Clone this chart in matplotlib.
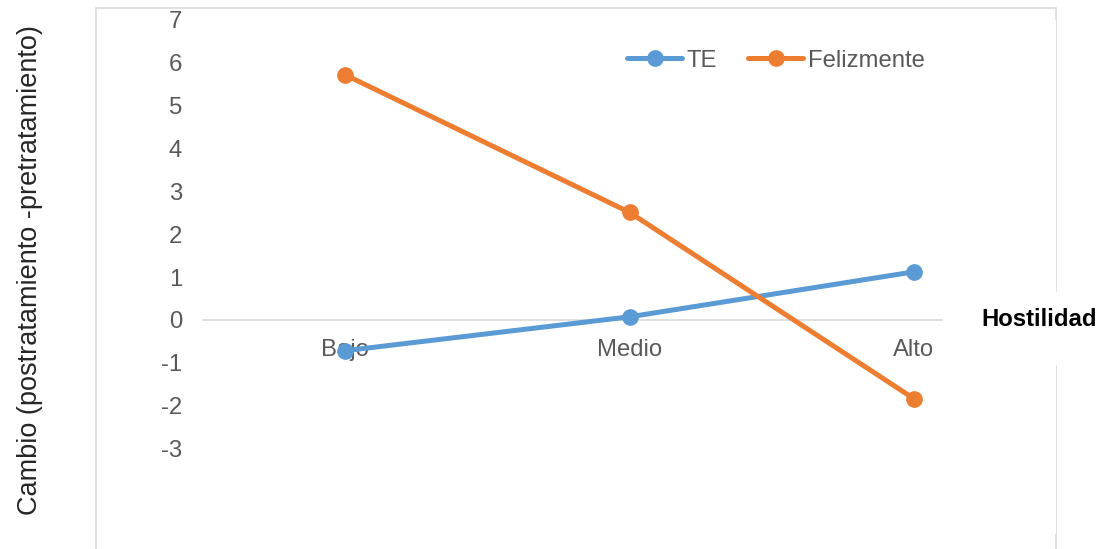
import matplotlib

matplotlib.use("Agg")

import matplotlib.pyplot as plt
from matplotlib.patches import Rectangle

plt.rcParams["font.family"] = ["Liberation Sans", "DejaVu Sans"]

categories = ["Bajo", "Medio", "Alto"]
te_values = [-0.72, 0.07, 1.12]
felizmente_values = [5.72, 2.51, -1.84]
y_ticks = [7, 6, 5, 4, 3, 2, 1, 0, -1, -2, -3]

BLUE = "#5B9BD5"
ORANGE = "#ED7D31"
GREY_TEXT = "#595959"
GRID = "#D9D9D9"
FS = 17.2

W, H = 1104, 549
fig = plt.figure(figsize=(W / 100, H / 100), dpi=100)
ax = fig.add_axes([203 / W, (H - 534) / H, (1056 - 203) / W, (534 - 20) / H])

x = list(range(len(categories)))
ax.plot(x, te_values, color=BLUE, linewidth=3.6, marker="o", markersize=11,
        solid_capstyle="round", label="TE", zorder=3)
ax.plot(x, felizmente_values, color=ORANGE, linewidth=3.6, marker="o", markersize=11,
        solid_capstyle="round", label="Felizmente", zorder=3)

ax.set_xlim(-0.5, len(categories) - 0.5)
ax.set_ylim(-5, 7)
ax.set_yticks(y_ticks)
ax.set_yticklabels([str(v) for v in y_ticks])
ax.set_xticks(x)
ax.set_xticklabels(categories)

for side in ("left", "right", "top"):
    ax.spines[side].set_visible(False)
ax.spines["bottom"].set_position(("data", 0))
ax.spines["bottom"].set_color(GRID)
ax.spines["bottom"].set_linewidth(1.2)
ax.spines["bottom"].set_zorder(1)

ax.tick_params(axis="y", length=0, pad=15, labelsize=FS, labelcolor=GREY_TEXT)
ax.tick_params(axis="x", length=0, pad=14, labelsize=FS, labelcolor=GREY_TEXT)
for lab in ax.get_xticklabels():
    lab.set_zorder(4)

ax.set_ylabel("Cambio (postratamiento -pretratamiento)", fontsize=19.5,
              color="#262626", labelpad=0)
ax.yaxis.set_label_coords(-160 / (1056 - 203), (H - 270 - 15) / (534 - 20))

leg = ax.legend(loc="upper center", bbox_to_anchor=(776 / W, (H - 40) / H),
                bbox_transform=fig.transFigure, ncol=2, frameon=False,
                fontsize=FS, handlelength=2.3, handletextpad=0.2,
                columnspacing=1.3, borderaxespad=0)
for t in leg.get_texts():
    t.set_color(GREY_TEXT)

# chart outline (bottom edge falls outside the canvas)
fig.add_artist(Rectangle((96 / W, -0.05), (1056 - 96) / W, (H - 8) / H + 0.05,
                         transform=fig.transFigure, fill=False,
                         edgecolor=GRID, linewidth=1.2, zorder=0))

# axis title box on the right, masking the outline and zero line
fig.add_artist(Rectangle((943 / W, (H - 365) / H), (W - 943) / W, 73 / H,
                         transform=fig.transFigure, facecolor="white",
                         edgecolor="none", zorder=5))
fig.text(1039.5 / W, (H - 319) / H, "Hostilidad", ha="center", va="center",
         fontsize=FS, fontweight="bold", color="black", zorder=6)

fig.savefig("out.png", dpi=100)
plt.close(fig)
